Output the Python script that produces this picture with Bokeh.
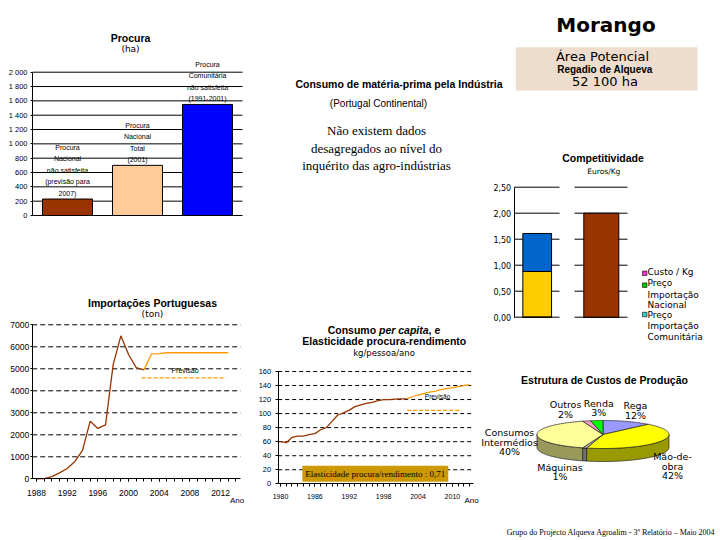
import numpy as np
from bokeh.plotting import figure
from bokeh.models import Range1d, Label, FixedTicker
from bokeh.layouts import row, column
from bokeh.embed import file_html
from bokeh.resources import INLINE
from bokeh.core.properties import value

# ---------------- chart values ----------------
procura_categories = ["Procura Nacional não satisfeita (previsão para 2007)",
                      "Procura Nacional Total (2001)",
                      "Procura Comunitária não satisfeita (1991-2001)"]
procura_bar_text = ["Procura\nNacional\nnão satisfeita\n(previsão para\n2007)",
                    "Procura\nNacional\nTotal\n(2001)",
                    "Procura\nComunitária\nnão satisfeita\n(1991-2001)"]
procura_ha = [230, 700, 1550]
procura_colors = ["#993300", "#FFCC99", "#0000FF"]
procura_ticks = [0, 200, 400, 600, 800, 1000, 1200, 1400, 1600, 1800, 2000]
procura_tick_labels = ["0", "200", "400", "600", "800", "1 000", "1 200",
                       "1 400", "1 600", "1 800", "2 000"]

imp_years = [1988, 1989, 1990, 1991, 1992, 1993, 1994, 1995, 1996, 1997,
             1998, 1999, 2000, 2001, 2002]
imp_ton = [0, 10, 100, 270, 470, 790, 1290, 2620, 2290, 2450,
           5200, 6500, 5650, 5050, 4950]
imp_fc_years = [2002, 2003, 2004, 2005, 2006, 2007, 2008, 2009, 2010, 2011, 2012, 2013]
imp_fc_ton = [4950, 5680, 5690, 5730, 5730, 5730, 5730, 5730, 5730, 5730, 5730, 5730]
imp_xticks = [1988, 1992, 1996, 2000, 2004, 2008, 2012]
imp_yticks = [0, 1000, 2000, 3000, 4000, 5000, 6000, 7000]
imp_prev_years = [2001.7, 2012.7]
imp_prev_level = 4590

pc_years = [1980, 1981, 1982, 1983, 1984, 1985, 1986, 1987, 1988, 1989, 1990, 1991,
            1992, 1993, 1994, 1995, 1996, 1997, 1998, 1999, 2000, 2001, 2002]
pc_kg = [60, 58.5, 66, 68, 68, 70, 71.5, 77, 80, 89, 98, 101,
         105, 110, 112.5, 114.5, 116, 118.5, 120, 120, 120.5, 121, 121]
pc_fc_years = [2002, 2003, 2004, 2005, 2006, 2007, 2008, 2009, 2010, 2011, 2012, 2013]
pc_fc_kg = [121, 124, 126.5, 128.5, 130.5, 132, 134, 135.5, 137, 138.5, 140, 141]
pc_xticks = [1980, 1986, 1992, 1998, 2004, 2010]
pc_yticks = [0, 20, 40, 60, 80, 100, 120, 140, 160]
pc_prev_years = [2002.1, 2011.6]
pc_prev_level = 104.5
elasticity_text = "Elasticidade procura/rendimento : 0,71"

comp_groups = [1, 2]
comp_yellow = [0.88, 0.0]
comp_blue = [0.73, 0.0]
comp_brown = [0.0, 2.00]
comp_ticks = [0, 0.5, 1.0, 1.5, 2.0, 2.5]
comp_tick_labels = ["0,00", "0,50", "1,00", "1,50", "2,00", "2,50"]
comp_legend = ["Custo / Kg", "Preço\nImportação\nNacional", "Preço\nImportação\nComunitária"]
comp_legend_colors = ["#FF33CC", "#00CC00", "#33CCCC"]

pie_names = ["Rega", "Mão-de-obra", "Máquinas", "Consumos Intermédios", "Outros", "Renda"]
pie_pct = [12, 42, 1, 40, 2, 3]
pie_label_lines = [["Rega", "12%"], ["Mão-de-", "obra", "42%"], ["Máquinas", "1%"],
                   ["Consumos", "Intermédios", "40%"], ["Outros", "2%"], ["Renda", "3%"]]
pie_top_colors = ["#9999FF", "#FFFF00", "#C0C0C0", "#FFFF99", "#FF99CC", "#00FF00"]
pie_side_colors = ["#5C5C99", "#999900", "#707070", "#99995C", "#99607A", "#009900"]

BROWN = "#993300"
ORANGE = "#FF9900"


# ---------------- helpers ----------------
class Map:
    """page pixel -> data coordinate for one figure"""
    def __init__(self, px0, x0, sx, py0, y0, sy):
        self.px0, self.x0, self.sx = px0, x0, sx
        self.py0, self.y0, self.sy = py0, y0, sy

    def x(self, px):
        return self.x0 + (px - self.px0) / self.sx

    def y(self, py):
        return self.y0 + (self.py0 - py) / self.sy


IDENT = Map(0, 0, 1, 0, 0, -1)


def fig_at(px0, py0, w, h, m, xaxis=False, yaxis=False):
    p = figure(width=w, height=h,
               x_range=Range1d(m.x(px0), m.x(px0 + w)),
               y_range=Range1d(m.y(py0 + h), m.y(py0)),
               output_backend="svg", toolbar_location=None, min_border=0,
               x_axis_location="below" if xaxis else None,
               y_axis_location="left" if yaxis else None,
               outline_line_color=None, background_fill_color="white",
               border_fill_color="white")
    p.grid.visible = False
    return p


def lab(p, m, px, py, text, size, font="Liberation Sans", style="normal",
        align="center", color="black", **kw):
    p.add_layout(Label(x=m.x(px), y=m.y(py), text=text, text_font=font,
                       text_font_size=f"{size}px", text_font_style=style,
                       text_align=align, text_baseline="middle",
                       text_color=color, **kw))


def style_axis(ax, font, size, tick_out, standoff, minor_out=0):
    ax.axis_line_color = "black"
    ax.axis_line_width = 1
    ax.major_tick_line_color = "black"
    ax.minor_tick_line_color = "black"
    ax.major_tick_in = 0
    ax.major_tick_out = tick_out
    ax.minor_tick_in = 0
    ax.minor_tick_out = minor_out
    ax.major_label_text_font = font
    ax.major_label_text_font_size = size
    ax.major_label_standoff = standoff
    ax.major_label_text_color = "black"


def hgrid(p, x0, x1, levels, dash=None):
    kw = {} if dash is None else {"line_dash": dash}
    p.segment(x0=[x0] * len(levels), x1=[x1] * len(levels), y0=levels, y1=levels,
              line_color="black", line_width=1, **kw)


# ---------------- Procura (ha) ----------------
mP = Map(32, 0, 70, 215, 0, 0.07165)
pP = fig_at(0, 0, 250, 233, mP, yaxis=True)
hgrid(pP, mP.x(32), mP.x(242), procura_ticks)
style_axis(pP.yaxis[0], "Liberation Sans", "7.5px", 2, 3)
pP.yaxis.ticker = FixedTicker(ticks=procura_ticks)
pP.yaxis.bounds = (0, 2000)
pP.yaxis.fixed_location = mP.x(32)
pP.yaxis.major_label_overrides = dict(zip(procura_ticks, procura_tick_labels))
procura_x = [i + 0.5 for i in range(len(procura_categories))]
pP.vbar(x=procura_x, top=procura_ha, width=0.714, fill_color=procura_colors,
        line_color="black", line_width=1)
pP.text(x=procura_x, y=procura_ha, text=procura_bar_text, text_align="center",
        text_baseline="bottom", text_font=value("Liberation Sans"), text_font_size="7px",
        text_line_height=1.65, y_offset=-2, text_color="black")
lab(pP, mP, 130, 37.5, "Procura", 10.5, style="bold")
lab(pP, mP, 130, 48.5, "(ha)", 9, font="DejaVu Sans")

# ---------------- Importações ----------------
mI = Map(36, 1988, 7.67, 478.3, 0, 0.022)
pI = fig_at(0, 233, 250, 307, mI, xaxis=True, yaxis=True)
hgrid(pI, mI.x(31.7), mI.x(240), imp_yticks[1:], dash="5 3")
style_axis(pI.yaxis[0], "Liberation Sans", "8.5px", 2, 1)
pI.yaxis.ticker = FixedTicker(ticks=imp_yticks)
pI.yaxis.bounds = (0, 7000)
pI.yaxis.fixed_location = mI.x(31.7)
style_axis(pI.xaxis[0], "Liberation Sans", "8.5px", 3, 8, minor_out=3)
pI.xaxis.ticker = FixedTicker(ticks=imp_xticks, minor_ticks=list(range(1988, 2015)))
pI.xaxis.bounds = (mI.x(31.7), mI.x(240))
pI.xaxis.fixed_location = 0
pI.line(imp_fc_years, imp_fc_ton, line_color=ORANGE, line_width=1.3)
pI.line(imp_years, imp_ton, line_color=BROWN, line_width=1.3)
pI.line(imp_prev_years, [imp_prev_level] * 2, line_color=ORANGE, line_width=1.2, line_dash="4 2")
lab(pI, mI, 184.5, 370, "Previsão", 7)
lab(pI, mI, 236.5, 500, "Ano", 8)
lab(pI, mI, 152, 302, "Importações Portuguesas", 10.5, style="bold")
lab(pI, mI, 152, 313.5, "(ton)", 9, font="DejaVu Sans")

# ---------------- middle text (two pieces) ----------------
serif_lines = ["Não existem dados", "desagregados ao nível do", "inquérito das agro-indústrias"]
pT1 = fig_at(250, 0, 265, 140, IDENT)
lab(pT1, IDENT, 398.5, 83.5, "Consumo de matéria-prima pela Indústria", 10.5, style="bold")
lab(pT1, IDENT, 378, 102.5, "(Portugal Continental)", 10)
lab(pT1, IDENT, 376, 130, serif_lines[0], 13, font="Liberation Serif")
pT2 = fig_at(250, 140, 230, 160, IDENT)
for i, s in enumerate(serif_lines[1:]):
    lab(pT2, IDENT, 376, 147.5 + 17.5 * i, s, 13, font="Liberation Serif")

# ---------------- Consumo per capita ----------------
mC = Map(280, 1980, 5.73, 483.3, 0, 0.702)
pC = fig_at(250, 300, 230, 240, mC, xaxis=True, yaxis=True)
hgrid(pC, mC.x(277.7), mC.x(471.7), pc_yticks[1:], dash="4 3")
style_axis(pC.yaxis[0], "Liberation Sans", "7.5px", 3, 4)
pC.yaxis.ticker = FixedTicker(ticks=pc_yticks)
pC.yaxis.bounds = (0, 160)
pC.yaxis.fixed_location = mC.x(277.7)
style_axis(pC.xaxis[0], "Liberation Sans", "7px", 3, 7, minor_out=3)
pC.xaxis.ticker = FixedTicker(ticks=pc_xticks, minor_ticks=list(range(1980, 2014)))
pC.xaxis.bounds = (mC.x(277.7), mC.x(473.3))
pC.xaxis.fixed_location = 0
pC.line(pc_fc_years, pc_fc_kg, line_color=ORANGE, line_width=1.3)
pC.line(pc_years, pc_kg, line_color=BROWN, line_width=1.3)
pC.line(pc_prev_years, [pc_prev_level] * 2, line_color=ORANGE, line_width=1.2, line_dash="4 2")
lab(pC, mC, 437, 395.5, "Previsão", 6.5)
lab(pC, mC, 471, 500, "Ano", 8)
lab(pC, mC, 374.8, 473.3, elasticity_text, 9, font="Liberation Serif",
    background_fill_color="#CC9900", padding=3)
x0 = 327.2
lab(pC, mC, x0, 329, "Consumo ", 10.5, style="bold", align="left")
lab(pC, mC, x0 + 51.3, 329, "per capita", 10.5, style="bold italic", align="left")
lab(pC, mC, x0 + 100.9, 329, ", e", 10.5, style="bold", align="left")
lab(pC, mC, 383.8, 340.5, "Elasticidade procura-rendimento", 10.5, style="bold")
lab(pC, mC, 383.5, 352, "kg/pessoa/ano", 8.5, font="DejaVu Sans")

# ---------------- Morango header ----------------
pM = fig_at(515, 0, 205, 140, IDENT)
pM.quad(left=[515], right=[697], top=[46.7], bottom=[90], fill_color="#EEDDCC", line_color=None)
lab(pM, IDENT, 605.5, 24.5, "Morango", 20, font="DejaVu Sans", style="bold")
lab(pM, IDENT, 602, 56, "Área Potencial", 13, font="DejaVu Sans")
lab(pM, IDENT, 604.5, 69, "Regadio de Alqueva", 10, style="bold")
lab(pM, IDENT, 604.5, 81, "52 100 ha", 13, font="DejaVu Sans")

# ---------------- Competitividade ----------------
mK = Map(536.7, 1, 64.1, 316.7, 0, 52)
pK = fig_at(480, 140, 240, 218, mK, yaxis=True)
style_axis(pK.yaxis[0], "DejaVu Sans", "8px", 0, 3)
pK.yaxis.ticker = FixedTicker(ticks=comp_ticks)
pK.yaxis.bounds = (0, 2.5)
pK.yaxis.fixed_location = mK.x(513.7)
pK.yaxis.major_label_overrides = dict(zip(comp_ticks, comp_tick_labels))
hgrid(pK, mK.x(513.7), mK.x(559), comp_ticks)
hgrid(pK, mK.x(574), mK.x(627), comp_ticks)
comp_w = [0.448, 0.546]
yb = [0.0, 0.0]
yy = [a + b for a, b in zip(yb, comp_yellow)]
yl = [a + b for a, b in zip(yy, comp_blue)]
pK.vbar(x=comp_groups, bottom=yb, top=yy, width=comp_w, fill_color="#FFCC00",
        line_color="black", line_width=1)
pK.vbar(x=comp_groups, bottom=yy, top=yl, width=comp_w, fill_color="#0066CC",
        line_color="black", line_width=1)
pK.vbar(x=comp_groups, bottom=yb, top=comp_brown, width=comp_w, fill_color=BROWN,
        line_color="black", line_width=1)
lab(pK, mK, 602.5, 157.5, "Competitividade", 10.5, style="bold")
lab(pK, mK, 603.3, 170.5, "Euros/Kg", 7.5, font="DejaVu Sans")
leg_sq_y = [272.8, 284.7, 314.0]
pK.scatter(x=[mK.x(644.2)] * 3, y=[mK.y(v) for v in leg_sq_y], marker="square", size=4.5,
           fill_color=comp_legend_colors, line_color="black", line_width=0.6)
leg_line_y = [[271.7], [282.7, 294, 304.7], [314, 325, 336]]
for txt, ys in zip(comp_legend, leg_line_y):
    for s, yv in zip(txt.split("\n"), ys):
        lab(pK, mK, 647, yv, s, 9, font="DejaVu Sans", align="left")

# ---------------- Pie ----------------
pE = fig_at(480, 358, 240, 157, IDENT)
cx, cy, rx, ry, depth = 602.5, 434, 66, 14, 13


def arc(a_from, a_to, npts=60):
    t = np.radians(np.linspace(a_from, a_to, npts))
    return list(cx + rx * np.cos(t)), list(cy - ry * np.sin(t))


cum = np.concatenate([[0], np.cumsum(pie_pct)])
tot = cum[-1]
top_xs, top_ys, side_xs, side_ys, side_cols = [], [], [], [], []
for i in range(len(pie_pct)):
    a0 = 90 - cum[i] / tot * 360
    a1 = 90 - cum[i + 1] / tot * 360
    ax, ay = arc(a0, a1)
    top_xs.append([cx] + ax)
    top_ys.append([cy] + ay)
    hi, lo = min(a0, 0), max(a1, -180)
    if lo < hi:
        sx_, sy_ = arc(hi, lo)
        side_xs.append(sx_ + sx_[::-1])
        side_ys.append(sy_ + [v + depth for v in sy_[::-1]])
        side_cols.append(pie_side_colors[i])
pE.patches(side_xs, side_ys, fill_color=side_cols, line_color="#222222", line_width=0.7)
pE.patches(top_xs, top_ys, fill_color=pie_top_colors, line_color="#222222", line_width=0.7)
lab(pE, IDENT, 604, 379, "Estrutura de Custos de Produção", 10.5, style="bold")
pie_label_pos = [(635, 405), (672, 456), (559.5, 466.7), (509, 432), (565, 404.3), (598.3, 402.7)]
for lines, (lx, ly) in zip(pie_label_lines, pie_label_pos):
    for j, s in enumerate(lines):
        lab(pE, IDENT, lx, ly + 9.6 * j, s, 9.5, font="DejaVu Sans")

# ---------------- footer ----------------
pF = fig_at(480, 515, 240, 25, IDENT)
lab(pF, IDENT, 715, 531.5, "Grupo do Projecto Alqueva Agroalim - 3º Relatório – Maio 2004", 8,
    font="Liberation Serif", align="right")

mid = row(column(pT2, pC), column(pK, pE, pF))
right_block = column(row(pT1, pM), mid)
layout = row(column(pP, pI), right_block)
open("out.html", "w").write(file_html(layout, INLINE, "Morango"))
